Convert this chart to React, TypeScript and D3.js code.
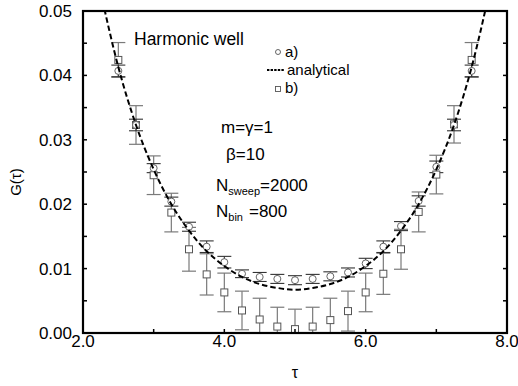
import React from "react";
import * as d3 from "d3";

const tau = [2.5, 2.75, 3.0, 3.25, 3.5, 3.75, 4.0, 4.25, 4.5, 4.75, 5.0, 5.25, 5.5, 5.75, 6.0, 6.25, 6.5, 6.75, 7.0, 7.25, 7.5];
const aVals = [0.0407, 0.0323, 0.0256, 0.0204, 0.0165, 0.0134, 0.0110, 0.0092, 0.0087, 0.0084, 0.0082, 0.0084, 0.0088, 0.0094, 0.0108, 0.0134, 0.0166, 0.0205, 0.0258, 0.0323, 0.0407];
const aErr = [0.0009, 0.0009, 0.0007, 0.0007, 0.0007, 0.0009, 0.0009, 0.0006, 0.0007, 0.0007, 0.0007, 0.0007, 0.0007, 0.0007, 0.0008, 0.0009, 0.0007, 0.0008, 0.0009, 0.0009, 0.0009];
const bVals = [0.0424, 0.0323, 0.0245, 0.0187, 0.0130, 0.0091, 0.0063, 0.0035, 0.0021, 0.0010, 0.0006, 0.0010, 0.0020, 0.0034, 0.0063, 0.0092, 0.0130, 0.0188, 0.0246, 0.0324, 0.0424];
const bErr = [0.0027, 0.0030, 0.0030, 0.0030, 0.0034, 0.0032, 0.0030, 0.0030, 0.0033, 0.0030, 0.0031, 0.0030, 0.0034, 0.0031, 0.0030, 0.0032, 0.0031, 0.0031, 0.0030, 0.0029, 0.0027];

const curveTau = [2.25, 2.5, 2.75, 3.0, 3.25, 3.5, 3.75, 4.0, 4.25, 4.5, 4.75, 5.0, 5.25, 5.5, 5.75, 6.0, 6.25, 6.5, 6.75, 7.0, 7.25, 7.5, 7.75];
const curveVals = [0.0529, 0.0413, 0.0323, 0.0254, 0.0200, 0.0159, 0.0127, 0.0104, 0.0087, 0.0076, 0.0070, 0.0067, 0.0070, 0.0076, 0.0087, 0.0104, 0.0127, 0.0159, 0.0200, 0.0254, 0.0323, 0.0413, 0.0529];

const xTickLabels = [2, 4, 6, 8];
const xMinorTicks = [3, 4, 5, 6, 7];
const yTickLabels = [0, 0.01, 0.02, 0.03, 0.04, 0.05];
const yMinorTicks = [0.005, 0.01, 0.015, 0.02, 0.025, 0.03, 0.035, 0.04, 0.045];

const W = 518, H = 386;
const L = 83, R = 507, T = 11, B = 333;
const FONT = "'Liberation Sans', Arial, Helvetica, sans-serif";

export default function App() {
  const x = d3.scaleLinear().domain([2, 8]).range([L, R]);
  const y = d3.scaleLinear().domain([0, 0.05]).range([B, T]);
  const line = d3.line<number>()
    .x((_, i) => x(curveTau[i]))
    .y((d) => y(d))
    .curve(d3.curveMonotoneX);
  const cap = 7;

  return (
    <svg width={W} height={H} style={{ position: "absolute", left: 0, top: 0, background: "#fff" }} fontFamily={FONT}>
      <defs>
        <clipPath id="plot">
          <rect x={L} y={T} width={R - L} height={B - T} />
        </clipPath>
      </defs>
      <rect x={0} y={0} width={W} height={H} fill="#fff" />
      <g clipPath="url(#plot)">
        {tau.map((t, i) => {
          const cx = x(t);
          const y1 = y(bVals[i] + bErr[i]);
          const y0 = y(bVals[i] - bErr[i]);
          return (
            <g key={"b" + i} stroke="#7a7a7a" strokeWidth={1.2}>
              <line x1={cx} x2={cx} y1={y1} y2={y0} />
              <line x1={cx - cap} x2={cx + cap} y1={y1} y2={y1} />
              <line x1={cx - cap} x2={cx + cap} y1={y0} y2={y0} />
            </g>
          );
        })}
        {tau.map((t, i) => {
          const cx = x(t);
          const y1 = y(aVals[i] + aErr[i]);
          const y0 = y(aVals[i] - aErr[i]);
          return (
            <g key={"a" + i} stroke="#333" strokeWidth={1.1}>
              <line x1={cx} x2={cx} y1={y1} y2={y0} />
              <line x1={cx - cap} x2={cx + cap} y1={y1} y2={y1} />
              <line x1={cx - cap} x2={cx + cap} y1={y0} y2={y0} />
            </g>
          );
        })}
        {tau.map((t, i) => (
          <rect key={"bs" + i} x={x(t) - 3.5} y={y(bVals[i]) - 3.5} width={7} height={7} fill="#fff" stroke="#555" strokeWidth={1} />
        ))}
        {tau.map((t, i) => (
          <circle key={"ac" + i} cx={x(t)} cy={y(aVals[i])} r={3.5} fill="#fff" stroke="#666" strokeWidth={1} />
        ))}
        <path d={line(curveVals) || ""} fill="none" stroke="#000" strokeWidth={2} strokeDasharray="5.5,3" />
      </g>

      {/* ticks */}
      {yMinorTicks.map((v) => (
        <g key={"yt" + v} stroke="#000" strokeWidth={1.5}>
          <line x1={L} x2={L + 4} y1={y(v)} y2={y(v)} />
          <line x1={R - 4} x2={R} y1={y(v)} y2={y(v)} />
        </g>
      ))}
      {xMinorTicks.map((v) => (
        <line key={"xt" + v} x1={x(v)} x2={x(v)} y1={B} y2={B - 4} stroke="#000" strokeWidth={1.5} />
      ))}
      <rect x={L} y={T} width={R - L} height={B - T} fill="none" stroke="#000" strokeWidth={2.2} />

      {yTickLabels.map((v) => (
        <text key={"yl" + v} x={72} y={y(v) + 6} textAnchor="end" fontSize={17} fill="#000">
          {v.toFixed(2)}
        </text>
      ))}
      {xTickLabels.map((v) => (
        <text key={"xl" + v} x={x(v)} y={347} textAnchor="middle" fontSize={17} fill="#000">
          {v.toFixed(1)}
        </text>
      ))}
      <text x={x(5)} y={378} textAnchor="middle" fontSize={16} fill="#000">τ</text>
      <text transform="translate(21,182) rotate(-90)" textAnchor="middle" fontSize={15} fill="#000">G(τ)</text>

      <text x={134} y={45} fontSize={17.5} fill="#000">Harmonic well</text>

      {/* legend */}
      <circle cx={278} cy={52} r={2.5} fill="#fff" stroke="#555" strokeWidth={0.9} />
      <text x={285} y={57} fontSize={15} fill="#000">a)</text>
      <line x1={267} x2={284} y1={70} y2={70} stroke="#000" strokeWidth={2} strokeDasharray="2.4,1.2" />
      <text x={287} y={75} fontSize={15} fill="#000">analytical</text>
      <rect x={275.5} y={86.5} width={5} height={5} fill="#fff" stroke="#555" strokeWidth={0.9} />
      <text x={285} y={93} fontSize={15} fill="#000">b)</text>

      {/* parameters */}
      <text x={221} y={133} fontSize={17} fill="#000">m=γ=1</text>
      <text x={226} y={160} fontSize={17} fill="#000">β=10</text>
      <text x={216} y={191} fontSize={17} fill="#000">
        N<tspan fontSize={11} dy={4}>sweep</tspan><tspan dy={-4}>=2000</tspan>
      </text>
      <text x={216} y={217} fontSize={17} fill="#000">
        N<tspan fontSize={11} dy={4}>bin</tspan><tspan dy={-4} dx={6}>=800</tspan>
      </text>
    </svg>
  );
}
